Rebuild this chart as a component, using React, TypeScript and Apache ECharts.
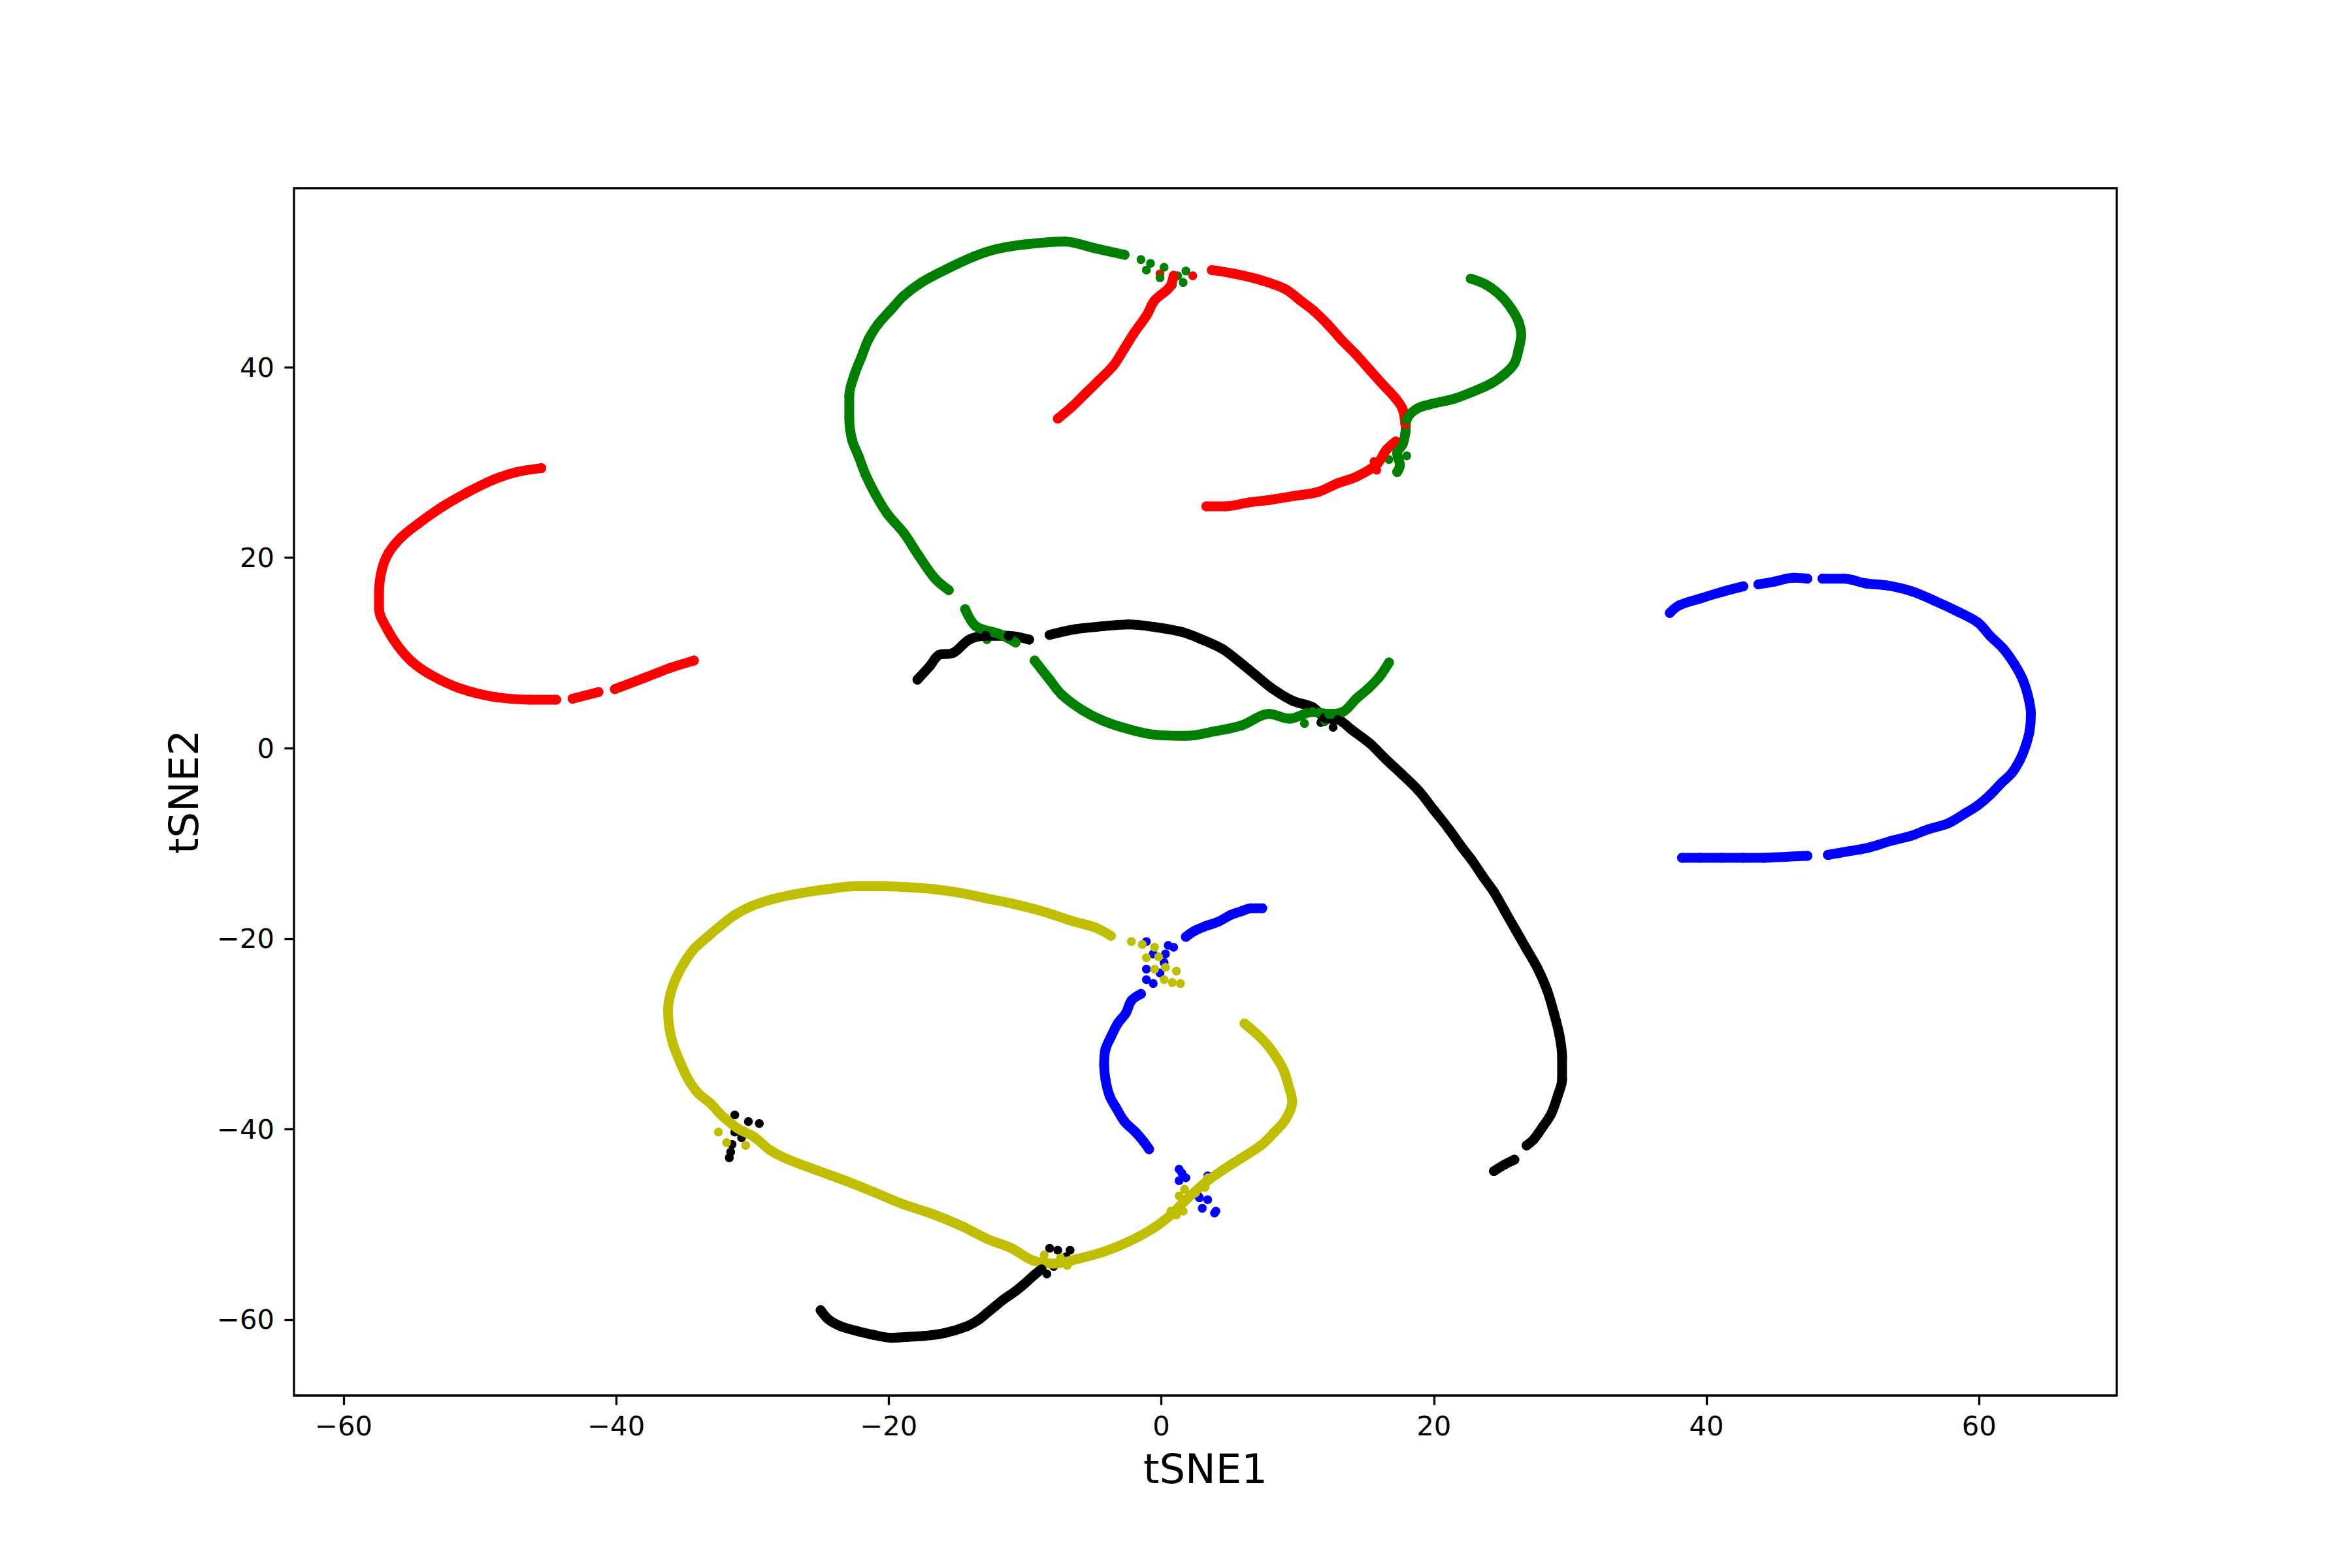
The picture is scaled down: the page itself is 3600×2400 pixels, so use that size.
import React, { useEffect, useRef } from "react";
import * as echarts from "echarts";

type P = [number, number][];

// ---- tick values ----
const xTicks = [-60, -40, -20, 0, 20, 40, 60];
const yTicks = [-60, -40, -20, 0, 20, 40];

// ---- colours (matplotlib r, g, b, k, y) ----
const RED = "#ff0000";
const GREEN = "#008000";
const BLUE = "#0000ff";
const BLACK = "#000000";
const YELLOW = "#bfbf00";

// ---- black points ----
const blackMain: P = [
  [-17.9, 7.2], [-17.0, 8.6], [-16.3, 9.8], [-15.3, 10.0], [-14.1, 11.4], [-12.9, 11.8], [-11.2, 11.8], [-9.7, 11.4],
];
const blackArc: P = [
  [-8.2, 11.9], [-6.3, 12.5], [-4.3, 12.8], [-2.4, 13.0], [-0.4, 12.7], [1.5, 12.2], [3.0, 11.4], [4.5, 10.4],
  [5.7, 9.1], [6.9, 7.7], [8.1, 6.3], [9.6, 5.0], [11.1, 4.3], [12.0, 3.2], [13.0, 3.0], [14.0, 1.9], [15.3, 0.5],
  [16.5, -1.2], [17.7, -2.8], [18.9, -4.5], [20.0, -6.5], [21.1, -8.5], [22.1, -10.5], [22.8, -11.8], [23.6, -13.5],
  [24.4, -15.1], [25.2, -17.1], [26.0, -19.1], [26.8, -21.1], [27.6, -23.1], [28.3, -25.4], [28.8, -27.8],
  [29.2, -30.1], [29.4, -32.4], [29.4, -34.8], [29.1, -36.4], [28.6, -38.4], [28.0, -39.7], [27.3, -41.1], [26.8, -41.7],
];
const blackTail: P = [[25.9, -43.2], [25.2, -43.7], [24.4, -44.4]];
const blackBottom: P = [
  [-25.0, -59.0], [-24.4, -60.0], [-23.5, -60.7], [-22.3, -61.2], [-21.1, -61.6], [-19.8, -61.9], [-18.6, -61.8],
  [-17.4, -61.7], [-15.9, -61.4], [-14.3, -60.7], [-13.4, -60.0], [-12.8, -59.3], [-12.2, -58.6], [-11.6, -57.9],
  [-10.7, -57.0], [-10.1, -56.3], [-9.4, -55.4], [-8.8, -54.7],
];
const blackBits: P = [
  [-9.3, -53.8], [-8.2, -52.5], [-7.6, -52.7], [-6.7, -52.7], [-7.0, -53.4], [-7.9, -54.4], [-8.4, -55.2],
  [-31.3, -38.5], [-30.3, -39.2], [-29.5, -39.4], [-31.3, -40.3], [-30.8, -40.9], [-29.9, -40.8], [-31.6, -42.4],
  [-31.7, -43.0], [-31.5, -41.6], [11.7, 2.7], [12.6, 2.2],
];

// ---- blue points ----
const blueRightA: P = [[37.3, 14.2], [38.0, 15.0], [39.5, 15.7], [41.1, 16.4], [42.7, 17.0]];
const blueRightB: P = [[43.8, 17.2], [45.0, 17.5], [46.4, 17.9], [47.4, 17.8]];
const blueRightC: P = [
  [48.5, 17.8], [50.1, 17.8], [51.7, 17.3], [53.2, 17.1], [55.0, 16.5], [56.7, 15.5], [58.5, 14.3], [59.9, 13.2],
  [60.8, 11.8], [61.8, 10.4], [62.6, 8.8], [63.2, 7.2], [63.6, 5.4], [63.8, 3.6], [63.7, 1.8], [63.4, 0.2],
  [63.0, -1.2], [62.4, -2.6], [61.6, -3.7], [60.8, -4.9], [59.9, -6.0], [58.9, -6.9], [57.7, -7.9], [56.3, -8.5],
  [55.0, -9.2], [53.6, -9.7], [52.0, -10.4], [50.5, -10.8], [48.9, -11.2],
];
const blueRightD: P = [[47.4, -11.3], [45.8, -11.4], [44.2, -11.5], [42.7, -11.5], [41.1, -11.5], [39.5, -11.5], [38.2, -11.5]];
const blueUpper: P = [[1.8, -19.8], [2.4, -19.2], [3.2, -18.7], [4.2, -18.2], [5.1, -17.5], [5.9, -17.1], [6.6, -16.8], [7.4, -16.8]];
const blueArc: P = [
  [-1.5, -25.8], [-2.2, -26.5], [-2.6, -27.8], [-3.2, -28.9], [-3.7, -30.3], [-4.1, -31.6], [-4.2, -33.2],
  [-4.1, -34.8], [-3.8, -36.5], [-3.3, -37.8], [-2.7, -39.2], [-1.9, -40.3], [-1.3, -41.3], [-0.9, -42.1],
];
const blueBits: P = [
  [-1.1, -20.3], [0.5, -20.7], [0.9, -20.9], [-0.6, -21.6], [0.3, -21.6], [-1.1, -23.2], [-1.1, -24.3],
  [-0.6, -24.7], [-0.1, -23.6], [0.2, -22.5],
  [1.3, -44.2], [1.8, -45.1], [1.3, -45.4], [2.7, -47.0], [3.4, -44.9], [3.4, -47.4], [3.0, -48.3], [4.0, -48.6],
  [3.9, -48.8], [2.8, -47.2], [1.5, -44.6],
];

// ---- red points ----
const redWestA: P = [
  [-45.5, 29.4], [-47.3, 29.0], [-49.0, 28.2], [-51.0, 26.8], [-52.7, 25.4], [-54.4, 23.7], [-55.8, 22.1],
  [-56.7, 20.5], [-57.2, 18.7], [-57.4, 16.4], [-57.4, 14.6], [-56.8, 12.5], [-56.0, 10.7], [-55.0, 9.1],
  [-53.6, 7.7], [-51.5, 6.3], [-49.0, 5.4], [-46.4, 5.1], [-44.4, 5.1],
];
const redWestB: P = [[-43.2, 5.2], [-41.3, 5.9]];
const redWestC: P = [[-40.1, 6.2], [-37.9, 7.4], [-36.1, 8.4], [-34.3, 9.2]];
const redBranch: P = [
  [-7.6, 34.6], [-6.6, 35.8], [-5.6, 37.2], [-4.6, 38.6], [-3.5, 40.2], [-2.7, 42.0], [-2.0, 43.6], [-1.1, 45.4],
  [-0.5, 47.0], [0.6, 48.4], [0.9, 49.6],
];
const redTop: P = [
  [3.7, 50.2], [5.4, 49.8], [7.4, 49.1], [9.1, 48.2], [10.2, 47.0], [11.2, 45.9], [12.2, 44.5], [13.2, 42.9],
  [14.3, 41.3], [15.3, 39.7], [16.3, 38.1], [17.2, 36.7], [17.7, 35.6], [17.9, 34.0],
];
const redLower: P = [
  [17.2, 32.2], [16.5, 31.3], [15.8, 29.8], [14.3, 28.5], [12.9, 27.8], [11.5, 26.9], [9.8, 26.5], [8.1, 26.1],
  [6.4, 25.8], [4.7, 25.4], [3.3, 25.4],
];
const redBits: P = [[-0.1, 49.8], [2.3, 49.6], [15.6, 30.1], [15.8, 29.2]];

// ---- green points ----
const greenArcA: P = [
  [-2.7, 51.8], [-4.9, 52.5], [-7.1, 53.2], [-10.0, 52.9], [-12.1, 52.4], [-13.8, 51.6], [-15.9, 50.2],
  [-17.6, 48.9], [-18.9, 47.5], [-19.8, 46.1], [-20.8, 44.5], [-21.5, 42.9], [-22.0, 41.1], [-22.5, 39.3],
  [-22.9, 37.0], [-22.9, 34.7], [-22.7, 32.4], [-22.2, 30.6], [-21.7, 28.7], [-21.0, 26.7], [-20.1, 24.6],
  [-18.9, 22.6], [-17.8, 20.2], [-16.6, 17.8], [-15.6, 16.6],
];
const greenArcB: P = [[-14.4, 14.6], [-13.6, 12.8], [-11.9, 12.0], [-10.7, 11.1]];
const greenArcC: P = [
  [-9.3, 9.2], [-8.2, 7.2], [-7.3, 5.6], [-5.8, 4.0], [-4.3, 2.9], [-2.4, 2.0], [-0.4, 1.4], [1.8, 1.3],
  [4.0, 1.8], [5.9, 2.4], [7.9, 3.6], [9.4, 3.1], [11.1, 3.8], [12.3, 3.6], [13.3, 3.8], [14.3, 5.2],
  [15.2, 6.3], [16.0, 7.5], [16.7, 9.0],
];
const greenHook: P = [
  [22.7, 49.3], [23.9, 48.6], [24.9, 47.5], [25.7, 46.1], [26.2, 44.8], [26.4, 43.4], [26.2, 41.8], [25.9, 40.4],
  [25.2, 39.3], [24.2, 38.3], [22.8, 37.4], [21.5, 36.7], [19.7, 36.1], [18.7, 35.6], [18.0, 34.5], [17.9, 33.1],
  [17.7, 31.9], [17.3, 31.0], [17.5, 29.7], [17.3, 29.0],
];
const greenBits: P = [
  [-1.5, 51.3], [-0.8, 50.9], [-1.1, 50.2], [0.2, 50.5], [-0.1, 49.4], [1.8, 50.1], [1.6, 48.9], [0.8, 48.6],
  [1.2, 49.6], [18.0, 30.7], [16.7, 30.3], [-12.8, 11.4], [-11.5, 11.9], [10.5, 2.6], [12.0, 2.8],
];

// ---- yellow points ----
const yellowMain: P = [
  [-3.7, -19.7], [-4.9, -18.8], [-6.4, -18.2], [-7.9, -17.5], [-9.3, -16.9], [-11.0, -16.3], [-12.7, -15.8],
  [-14.7, -15.2], [-16.7, -14.8], [-18.6, -14.6], [-20.6, -14.5], [-22.5, -14.5], [-24.5, -14.8], [-26.4, -15.2],
  [-28.4, -15.8], [-30.1, -16.6], [-31.3, -17.5], [-32.3, -18.6], [-33.3, -19.8], [-34.3, -21.1], [-35.0, -22.5],
  [-35.6, -24.1], [-36.0, -25.7], [-36.2, -27.5], [-36.1, -29.4], [-35.8, -31.2], [-35.3, -33.0], [-34.7, -34.8],
  [-34.0, -36.2], [-33.0, -37.4], [-32.3, -38.5], [-31.1, -39.9], [-29.9, -40.8], [-28.7, -42.2], [-27.5, -43.1],
  [-25.3, -44.3], [-23.2, -45.4], [-21.1, -46.6], [-18.9, -47.9], [-16.8, -48.9], [-14.6, -50.2], [-12.8, -51.5],
  [-11.0, -52.5], [-9.4, -53.8], [-7.9, -54.1], [-6.1, -53.6], [-4.3, -52.9], [-2.4, -51.8], [-0.6, -50.4],
  [0.7, -49.0], [1.6, -47.7], [2.5, -46.5], [3.4, -45.4], [4.6, -44.2], [5.8, -43.1], [7.3, -41.7], [8.3, -40.3],
  [9.1, -39.0], [9.6, -37.1], [9.3, -35.3], [9.0, -33.9], [8.5, -32.6], [7.8, -31.2], [7.0, -30.0], [6.1, -28.9],
];
const yellowBits: P = [
  [-2.2, -20.3], [-1.4, -20.6], [-0.5, -20.9], [-1.1, -22.0], [-0.2, -21.9], [-0.5, -23.2], [0.3, -23.0],
  [0.2, -24.3], [1.1, -23.4], [0.8, -24.6], [1.4, -24.7],
  [1.3, -47.0], [1.7, -46.3], [1.6, -48.6], [0.7, -48.6], [1.1, -49.0], [2.5, -46.7], [3.2, -46.1], [3.4, -45.1],
  [-32.5, -40.3], [-31.9, -41.4], [-30.5, -41.7], [-31.6, -39.4],
  [-8.6, -53.2], [-7.4, -53.5], [-6.9, -54.3],
];

const fmt = (v: number) => (v < 0 ? "\u2212" + Math.abs(v) : String(v));

const SYM = 15;
const DOT = 13.5;
const BAND = 15;

function curve(data: P, color: string) {
  return {
    type: "line",
    data,
    smooth: 0.35,
    symbol: "circle",
    symbolSize: SYM,
    showAllSymbol: true,
    itemStyle: { color, borderWidth: 0 },
    lineStyle: { color, width: BAND, cap: "round", join: "round" },
    emphasis: { disabled: true },
    silent: true,
  };
}
function dots(data: P, color: string) {
  return {
    type: "scatter",
    data,
    symbol: "circle",
    symbolSize: DOT,
    itemStyle: { color, borderWidth: 0, opacity: 1 },
    emphasis: { disabled: true },
    silent: true,
  };
}

export default function App() {
  const ref = useRef<HTMLDivElement>(null);
  useEffect(() => {
    if (!ref.current) return;
    const chart = echarts.init(ref.current, undefined, { renderer: "svg" });
    const font = "DejaVu Sans";
    chart.setOption({
      animation: false,
      backgroundColor: "#ffffff",
      grid: {
        left: 450,
        right: 360,
        top: 288,
        bottom: 264,
        show: true,
        borderColor: "#000",
        borderWidth: 3.3,
        backgroundColor: "transparent",
        containLabel: false,
        outerBoundsMode: "none",
      },
      xAxis: {
        type: "value",
        position: "bottom",
        min: -63.64,
        max: 70.1,
        name: "tSNE1",
        nameLocation: "middle",
        nameGap: 81,
        nameTextStyle: { fontSize: 62.5, fontFamily: font, color: "#000" },
        axisLine: { show: false, onZero: false },
        splitLine: { show: false },
        axisTick: { show: true, length: 14.6, lineStyle: { color: "#000", width: 3.3 }, customValues: xTicks },
        axisLabel: { customValues: xTicks, formatter: fmt, fontSize: 41.7, fontFamily: font, color: "#000", margin: 25 },
      },
      yAxis: {
        type: "value",
        position: "left",
        min: -67.96,
        max: 58.8,
        name: "tSNE2",
        nameLocation: "middle",
        nameGap: 137,
        nameTextStyle: { fontSize: 62.5, fontFamily: font, color: "#000" },
        axisLine: { show: false, onZero: false },
        splitLine: { show: false },
        axisTick: { show: true, length: 14.6, lineStyle: { color: "#000", width: 3.3 }, customValues: yTicks },
        axisLabel: { customValues: yTicks, formatter: fmt, fontSize: 41.7, fontFamily: font, color: "#000", margin: 30 },
      },
      series: [
        curve(blackMain, BLACK),
        curve(blackArc, BLACK),
        curve(blackTail, BLACK),
        curve(blackBottom, BLACK),
        dots(blackBits, BLACK),
        curve(blueRightA, BLUE),
        curve(blueRightB, BLUE),
        curve(blueRightC, BLUE),
        curve(blueRightD, BLUE),
        curve(blueUpper, BLUE),
        curve(blueArc, BLUE),
        dots(blueBits, BLUE),
        curve(redWestA, RED),
        curve(redWestB, RED),
        curve(redWestC, RED),
        curve(redBranch, RED),
        curve(redTop, RED),
        curve(redLower, RED),
        dots(redBits, RED),
        curve(greenArcA, GREEN),
        curve(greenArcB, GREEN),
        curve(greenArcC, GREEN),
        curve(greenHook, GREEN),
        dots(greenBits, GREEN),
        curve(yellowMain, YELLOW),
        dots(yellowBits, YELLOW),
      ],
    });
    return () => chart.dispose();
  }, []);
  return <div ref={ref} style={{ position: "absolute", left: 0, top: 0, width: 3600, height: 2400 }} />;
}
